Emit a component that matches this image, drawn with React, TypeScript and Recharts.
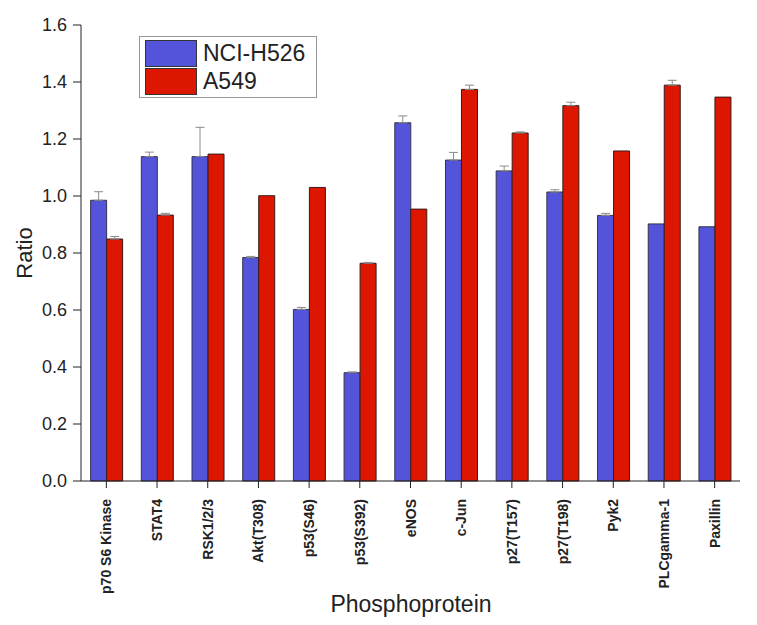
import React from "react";
import {
  BarChart, Bar, XAxis, YAxis, ErrorBar, Legend, Label,
} from "recharts";

const proteins = [
  "p70 S6 Kinase", "STAT4", "RSK1/2/3", "Akt(T308)", "p53(S46)", "p53(S392)",
  "eNOS", "c-Jun", "p27(T157)", "p27(T198)", "Pyk2", "PLCgamma-1", "Paxillin",
];
const h526 = [0.985, 1.138, 1.138, 0.784, 0.602, 0.38, 1.257, 1.126, 1.088, 1.014, 0.932, 0.902, 0.892];
const h526Err = [0.03, 0.016, 0.103, 0.004, 0.007, 0.003, 0.024, 0.027, 0.017, 0.008, 0.007, 0, 0];
const a549 = [0.849, 0.933, 1.147, 1.001, 1.03, 0.764, 0.954, 1.374, 1.221, 1.317, 1.158, 1.389, 1.347];
const a549Err = [0.009, 0.006, 0, 0, 0, 0.003, 0, 0.015, 0.004, 0.012, 0, 0.017, 0];
const yTicks = [0, 0.2, 0.4, 0.6, 0.8, 1.0, 1.2, 1.4, 1.6];
const seriesOrder = ["NCI-H526", "A549"];

const BLUE = "#5454da";
const RED = "#dd1600";
const FONT = "'Liberation Sans', Arial, sans-serif";

// upper half only, like the original error bars
const data = proteins.map((name, i) => ({
  name,
  h526: h526[i],
  h526Err: h526Err[i] ? [0, h526Err[i]] : null,
  a549: a549[i],
  a549Err: a549Err[i] ? [0, a549Err[i]] : null,
}));

const XTick = ({ x, y, payload }: { x?: number; y?: number; payload?: { value: string } }) => (
  <text
    x={x}
    y={(y ?? 0) + 9}
    transform={`rotate(-90 ${x} ${(y ?? 0) + 9})`}
    textAnchor="end"
    dy="0.36em"
    fontFamily={FONT}
    fontWeight="bold"
    fontSize={14}
    fill="#222"
  >
    {payload?.value}
  </text>
);

const LegendBox = ({ payload }: { payload?: { value: string; color: string }[] }) => {
  const items = [...(payload ?? [])].sort(
    (a, b) => seriesOrder.indexOf(a.value) - seriesOrder.indexOf(b.value)
  );
  return (
    <div style={{ border: "1px solid #999", padding: "2px 5px", background: "#fff", fontFamily: FONT }}>
      {items.map((p) => (
        <div key={p.value} style={{ display: "flex", alignItems: "center", height: 28 }}>
          <span style={{ width: 50, height: 25, background: p.color, border: "1px solid #333", marginRight: 6 }} />
          <span style={{ fontSize: 23, color: "#222", lineHeight: "26px" }}>{p.value}</span>
        </div>
      ))}
    </div>
  );
};

export default function App() {
  return (
    <div style={{ position: "absolute", left: 0, top: 0, width: 757, height: 625, background: "#fff" }}>
      <BarChart
        width={757}
        height={625}
        data={data}
        margin={{ top: 25, right: 17, bottom: 0, left: 0 }}
        barGap={0}
        barCategoryGap="19%"
      >
        <XAxis
          dataKey="name"
          interval={0}
          height={144}
          tickSize={7}
          stroke="#222"
          tick={<XTick />}
        >
          <Label
            content={() => (
              <text x={411} y={612} textAnchor="middle" fontFamily={FONT} fontSize={23} fill="#222">
                Phosphoprotein
              </text>
            )}
          />
        </XAxis>
        <YAxis
          width={81}
          domain={[0, 1.6]}
          ticks={yTicks}
          tickSize={8}
          tickMargin={6}
          stroke="#222"
          tickFormatter={(v: number) => v.toFixed(1)}
          tick={{ fill: "#222", fontSize: 18, fontFamily: FONT }}
        >
          <Label
            content={() => (
              <text
                x={24}
                y={253}
                transform="rotate(-90 24 253)"
                textAnchor="middle"
                dy="0.35em"
                fontFamily={FONT}
                fontSize={22}
                fill="#222"
              >
                Ratio
              </text>
            )}
          />
        </YAxis>
        <Legend
          layout="vertical"
          verticalAlign="middle"
          align="center"
          wrapperStyle={{ position: "absolute", left: 139, top: 36, width: 178 }}
          content={<LegendBox />}
        />
        <Bar dataKey="h526" name="NCI-H526" fill={BLUE} stroke="#33334d" strokeWidth={1} isAnimationActive={false}>
          <ErrorBar dataKey="h526Err" direction="y" width={4.5} stroke="#8a8a8a" strokeWidth={1} isAnimationActive={false} />
        </Bar>
        <Bar dataKey="a549" name="A549" fill={RED} stroke="#3a1a1a" strokeWidth={1} isAnimationActive={false}>
          <ErrorBar dataKey="a549Err" direction="y" width={4.5} stroke="#8a8a8a" strokeWidth={1} isAnimationActive={false} />
        </Bar>
      </BarChart>
    </div>
  );
}
